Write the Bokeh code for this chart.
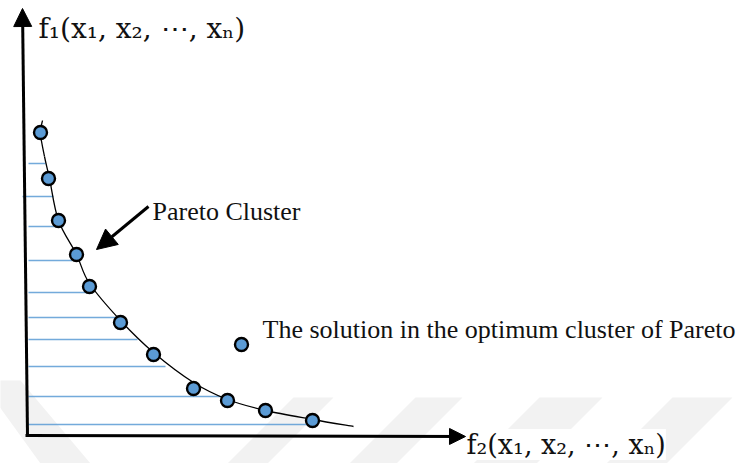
import numpy as np
from bokeh.plotting import figure
from bokeh.models import Range1d, Arrow, NormalHead, Label
from bokeh.embed import file_html
from bokeh.resources import INLINE

# Objective values of the Pareto-front solutions (f2 horizontal, f1 vertical)
front_f2 = [13, 21, 31, 49, 62, 93, 126, 166, 200, 238, 285]
front_f1 = [303, 257, 215, 181, 149, 113, 81, 47, 35, 25, 15]

# A single dominated solution away from the front
other_f2 = [214]
other_f1 = [91]

# Anchor points of the trade-off curve
curve_f2 = [15, 13, 17, 22, 31, 49, 62, 93, 126, 166, 200, 238, 285, 326]
curve_f1 = [315, 302, 279, 257, 215, 181, 152, 115, 83, 53, 36, 25, 16, 9]

# Shading levels under the curve: height and extent to the curve
shade_f1 = [272, 239, 209, 175, 143, 118, 96, 69, 39, 11]
shade_start = [1, -5, 1, 1, 1, 1, 1, 1, 1, 1]
shade_end = [18, 26, 36, 45, 66, 90, 110, 138, 193, 281]

BLUE = "#5b9bd5"

p = figure(width=744, height=463, output_backend="svg", toolbar_location=None,
           x_range=Range1d(-27, 717), y_range=Range1d(-28, 435),
           x_axis_type=None, y_axis_type=None, min_border=0)
p.outline_line_color = None
p.xgrid.visible = False
p.ygrid.visible = False
p.background_fill_color = "white"
p.border_fill_color = "white"

# faint diagonal background bands
band_xs = [[-47, -7, 63, 13], [266, 306, 240, 200], [388, 435, 369, 322],
           [512, 575, 509, 446], [645, 705, 639, 579]]
band_ys = [[55, 55, -28, -28], [38, 38, -28, -28], [38, 38, -28, -28],
           [38, 38, -28, -28], [38, 38, -28, -28]]
p.patches(band_xs, band_ys, fill_color="#f2f2f2", line_color=None)

# shading lines between the f1 axis and the front
p.segment(x0=shade_start, y0=shade_f1, x1=shade_end, y1=shade_f1,
          line_color=BLUE, line_width=1.6, line_alpha=0.85)

# smooth trade-off curve (Catmull-Rom through the anchors, drawn as Bezier pieces)
cx = np.array(curve_f2, dtype=float)
cy = np.array(curve_f1, dtype=float)
n = len(cx)
x0, y0, x1, y1, c0x, c0y, c1x, c1y = [], [], [], [], [], [], [], []
for i in range(n - 1):
    im, ip2 = max(i - 1, 0), min(i + 2, n - 1)
    x0.append(cx[i]); y0.append(cy[i]); x1.append(cx[i + 1]); y1.append(cy[i + 1])
    c0x.append(cx[i] + (cx[i + 1] - cx[im]) / 6); c0y.append(cy[i] + (cy[i + 1] - cy[im]) / 6)
    c1x.append(cx[i + 1] - (cx[ip2] - cx[i]) / 6); c1y.append(cy[i + 1] - (cy[ip2] - cy[i]) / 6)
p.bezier(x0=x0, y0=y0, x1=x1, y1=y1, cx0=c0x, cy0=c0y, cx1=c1x, cy1=c1y,
         line_color="black", line_width=1.3)

# solutions
p.scatter(front_f2, front_f1, size=13, fill_color=BLUE, line_color="black", line_width=2.4)
p.scatter(other_f2, other_f1, size=13, fill_color=BLUE, line_color="black", line_width=2.4)

# axes drawn as arrows
p.add_layout(Arrow(x_start=0, y_start=0, x_end=-5, y_end=427, line_width=3, line_color="black",
                   end=NormalHead(size=18, fill_color="black", line_color="black", line_width=1)))
p.add_layout(Arrow(x_start=-2, y_start=0, x_end=438, y_end=-1, line_width=3, line_color="black",
                   end=NormalHead(size=16, fill_color="black", line_color="black", line_width=1)))

# pointer to the front
p.add_layout(Arrow(x_start=121, y_start=229, x_end=69, y_end=186, line_width=3, line_color="black",
                   end=NormalHead(size=20, fill_color="black", line_color="black", line_width=1)))

serif = "'Liberation Serif', 'Times New Roman', serif"
p.add_layout(Label(x=125, y=224, text="Pareto Cluster", text_font=serif,
                   text_font_size="26px", text_color="#111111", text_baseline="alphabetic"))
p.add_layout(Label(x=235, y=106, text="The solution in the optimum cluster of Pareto",
                   text_font=serif, text_font_size="26px", text_color="#111111",
                   text_baseline="alphabetic"))

math = "'DejaVu Serif', serif"
p.add_layout(Label(x=11, y=407, text="f\u2081(x\u2081, x\u2082, \u22ef, x\u2099)", text_font=math,
                   text_font_size="28px", text_color="#111111", text_baseline="alphabetic"))
p.add_layout(Label(x=439, y=-9, text="f\u2082(x\u2081, x\u2082, \u22ef, x\u2099)", text_font=math,
                   text_font_size="27px", text_color="#111111", text_baseline="alphabetic",
                   background_fill_color="white"))

open("out.html", "w").write(file_html(p, INLINE))
